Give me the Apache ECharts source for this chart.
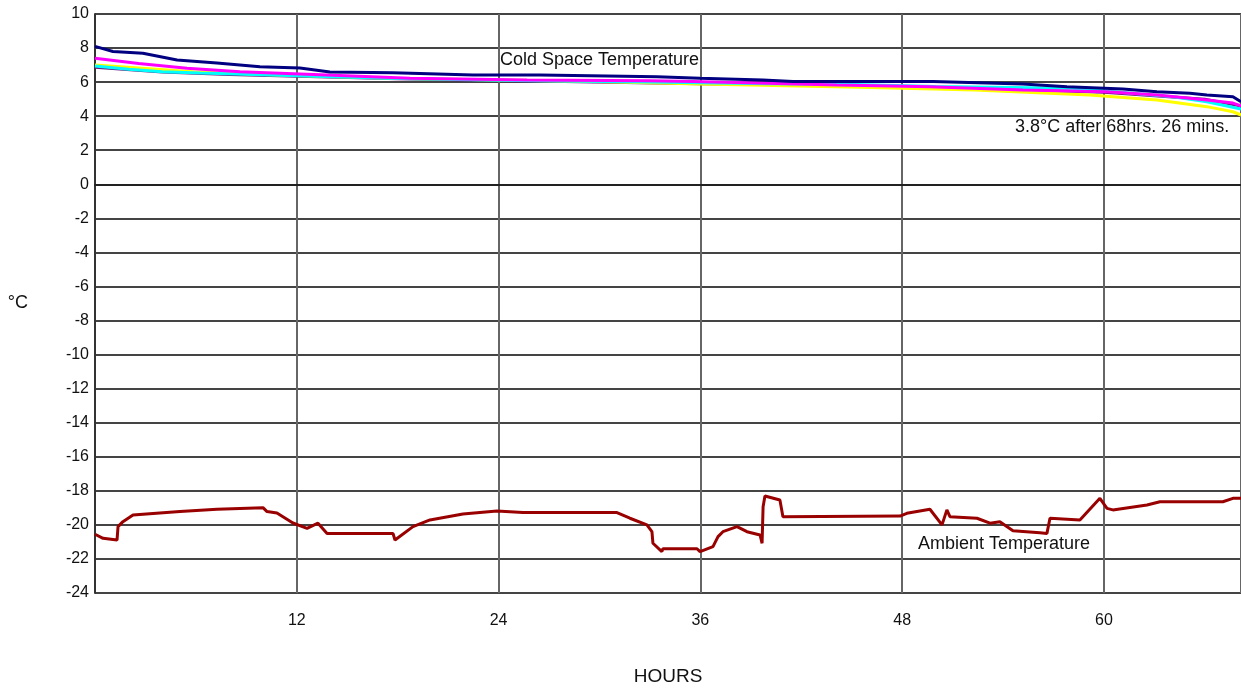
<!DOCTYPE html>
<html>
<head>
<meta charset="utf-8">
<script src="https://cdn.jsdelivr.net/npm/echarts@6/dist/echarts.min.js"></script>
<style>
  html, body { margin: 0; padding: 0; background: #fff; }
  #chart { width: 1241px; height: 691px; }
</style>
</head>
<body>
<div id="chart"></div>
<script>
// hours / °C
let navyHours = [0, 1.07, 2.85, 4.88, 7.25, 9.81, 12.19, 13.97, 17.72, 22.48, 26.46, 33.42, 35.98, 39.72, 41.51, 49.83, 55.18, 57.8, 61.13, 63.15, 65.11, 66.12, 67.67, 68.15];
let navyTemp = [8.1, 7.8, 7.7, 7.3, 7.12, 6.9, 6.83, 6.6, 6.55, 6.42, 6.42, 6.32, 6.22, 6.12, 6.03, 6.03, 5.89, 5.73, 5.6, 5.44, 5.34, 5.24, 5.14, 4.85];

let magentaHours = [0, 2.6, 5.47, 8.62, 13.8, 18.73, 25.69, 33.0, 35.56, 40.0, 44.12, 49.65, 55.18, 60.18, 63.15, 66.12, 67.67, 68.15];
let magentaTemp = [7.4, 7.1, 6.81, 6.61, 6.42, 6.22, 6.12, 6.08, 6.03, 5.93, 5.83, 5.73, 5.54, 5.44, 5.24, 4.95, 4.77, 4.6];

let cyanHours = [0, 2, 4, 6.25, 17.36, 25, 33, 40, 44.5, 50, 58.16, 64.1, 66.12, 68.15];
let cyanTemp = [6.95, 6.75, 6.61, 6.53, 6.22, 6.1, 6.0, 5.9, 5.88, 5.75, 5.64, 5.14, 4.85, 4.42];

let yellowHours = [0, 5.83, 10.82, 17.72, 29.61, 35.98, 45.49, 52.3, 59.16, 63.15, 66.12, 67.67, 68.15];
let yellowTemp = [7.0, 6.61, 6.42, 6.22, 6.03, 5.89, 5.7, 5.54, 5.24, 4.95, 4.56, 4.26, 4.07];

let purpleHours = [0, 4, 8, 18, 36, 48, 60, 66, 68.15];
let purpleTemp = [6.87, 6.6, 6.45, 6.2, 5.9, 5.75, 5.4, 5.0, 4.6];

let ambientHours = [0, 0.48, 1.31, 1.37, 1.66, 2.26, 5.05, 7.25, 9.99, 10.23, 10.82, 11.77, 12.61, 13.26, 13.8, 17.72, 17.84, 18.91, 19.92, 21.88, 23.9, 25.45, 31.04, 31.81, 32.82, 33.12, 33.18, 33.71, 33.77, 35.8, 35.98, 36.75, 37.05, 37.34, 38.18, 38.77, 39.55, 39.67, 39.73, 39.84, 40.73, 40.91, 47.87, 48.28, 49.65, 50.37, 50.66, 50.84, 52.45, 53.22, 53.81, 54.59, 56.19, 56.61, 56.79, 58.57, 59.76, 60.18, 60.53, 62.56, 63.33, 67.07, 67.67, 68.15];
let ambientTemp = [-20.55, -20.79, -20.89, -20.1, -19.81, -19.42, -19.22, -19.08, -18.99, -19.22, -19.3, -19.89, -20.2, -19.9, -20.5, -20.5, -20.89, -20.1, -19.71, -19.36, -19.18, -19.28, -19.28, -19.61, -20.0, -20.4, -21.08, -21.57, -21.4, -21.4, -21.57, -21.28, -20.69, -20.4, -20.1, -20.4, -20.59, -21.08, -18.93, -18.3, -18.54, -19.52, -19.48, -19.32, -19.08, -20.0, -19.12, -19.52, -19.61, -19.9, -19.81, -20.34, -20.46, -20.5, -19.61, -19.71, -18.44, -19.03, -19.12, -18.83, -18.64, -18.64, -18.44, -18.44];

let zip = (xs, ys) => xs.map((x, i) => [x, ys[i]]);

let textFont = 'Liberation Sans, Arial, sans-serif';

let lineSeries = (name, hours, temp, color) => ({
    name: name,
    type: 'line',
    data: zip(hours, temp),
    symbol: 'none',
    lineStyle: { color: color, width: 3 },
    animation: false
});

let chart = echarts.init(document.getElementById('chart'), null, { renderer: 'canvas' });

chart.setOption({
    backgroundColor: '#fff',
    animation: false,
    grid: { left: 95, right: 0, top: 14, bottom: 98 },
    xAxis: {
        type: 'value',
        min: 0,
        max: 68.15,
        interval: 12,
        name: 'HOURS',
        nameLocation: 'middle',
        nameGap: 74,
        nameTextStyle: { color: '#111', fontSize: 19, fontFamily: textFont },
        axisLine: { show: true, lineStyle: { color: '#222', width: 2 } },
        axisTick: { show: false },
        axisLabel: {
            color: '#111', fontSize: 16, fontFamily: textFont, margin: 20,
            showMinLabel: false, showMaxLabel: false
        },
        splitLine: { show: true, lineStyle: { color: '#666', width: 2 } }
    },
    yAxis: {
        type: 'value',
        min: -24,
        max: 10,
        interval: 2,
        name: '°C',
        nameLocation: 'middle',
        nameRotate: 0,
        nameGap: 67,
        nameTextStyle: { color: '#111', fontSize: 18, fontFamily: textFont },
        axisLine: { show: true, lineStyle: { color: '#333', width: 2 } },
        axisTick: { show: false },
        axisLabel: { color: '#111', fontSize: 16, fontFamily: textFont, margin: 6 },
        splitLine: { show: true, lineStyle: { color: '#444', width: 2 } }
    },
    series: [
        lineSeries('purple', purpleHours, purpleTemp, '#6a1b7a'),
        lineSeries('yellow', yellowHours, yellowTemp, '#ffff00'),
        lineSeries('cyan', cyanHours, cyanTemp, '#00ffff'),
        lineSeries('magenta', magentaHours, magentaTemp, '#ff00ff'),
        lineSeries('navy', navyHours, navyTemp, '#000080'),
        lineSeries('Ambient', ambientHours, ambientTemp, '#990000')
    ],
    graphic: [
        { type: 'text', left: 500, top: 51, style: { text: 'Cold Space Temperature', fill: '#111', font: '18px ' + textFont } },
        { type: 'text', left: 1015, top: 118, style: { text: '3.8°C after 68hrs. 26 mins.', fill: '#111', font: '18px ' + textFont } },
        { type: 'text', left: 918, top: 535, style: { text: 'Ambient Temperature', fill: '#111', font: '18px ' + textFont } }
    ]
});
</script>
</body>
</html>
